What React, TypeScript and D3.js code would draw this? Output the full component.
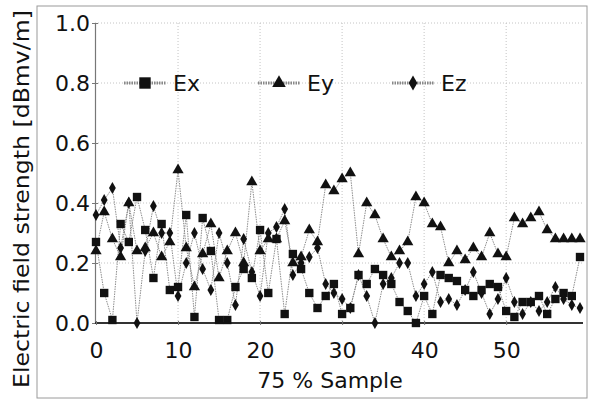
import React, { useEffect, useRef } from "react";
import * as d3 from "d3";

// sample index 0..59
const samples = d3.range(0, 60);

const ex = [
  0.27, 0.10, 0.01, 0.33, 0.27, 0.42, 0.31, 0.15, 0.33, 0.11,
  0.12, 0.36, 0.02, 0.35, 0.24, 0.01, 0.01, 0.12, 0.18, 0.15,
  0.31, 0.10, 0.28, 0.03, 0.23, 0.18, 0.10, 0.05, 0.09, 0.13,
  0.03, 0.05, 0.16, 0.13, 0.18, 0.16, 0.13, 0.07, 0.04, 0.00,
  0.09, 0.03, 0.16, 0.15, 0.14, 0.11, 0.09, 0.11, 0.13, 0.12,
  0.04, 0.02, 0.07, 0.07, 0.09, 0.03, 0.08, 0.10, 0.09, 0.22,
];

const ey = [
  0.24, 0.37, 0.28, 0.22, 0.40, 0.24, 0.25, 0.30, 0.22, 0.27,
  0.51, 0.25, 0.12, 0.23, 0.33, 0.15, 0.24, 0.30, 0.20, 0.47,
  0.24, 0.28, 0.28, 0.34, 0.20, 0.22, 0.31, 0.27, 0.46, 0.44,
  0.48, 0.50, 0.23, 0.40, 0.36, 0.28, 0.22, 0.24, 0.27, 0.42,
  0.40, 0.33, 0.32, 0.20, 0.24, 0.21, 0.25, 0.22, 0.30, 0.23,
  0.22, 0.35, 0.33, 0.35, 0.37, 0.31, 0.28, 0.28, 0.28, 0.28,
];

const ez = [
  0.36, 0.41, 0.45, 0.25, 0.40, 0.00, 0.24, 0.39, 0.30, 0.30,
  0.09, 0.20, 0.30, 0.18, 0.11, 0.30, 0.20, 0.06, 0.28, 0.17,
  0.09, 0.30, 0.32, 0.38, 0.16, 0.20, 0.22, 0.25, 0.13, 0.10,
  0.08, 0.05, 0.16, 0.09, 0.00, 0.13, 0.15, 0.20, 0.20, 0.09,
  0.13, 0.17, 0.07, 0.08, 0.06, 0.11, 0.17, 0.10, 0.03, 0.08,
  0.15, 0.07, 0.03, 0.07, 0.04, 0.07, 0.12, 0.08, 0.06, 0.05,
];

const seriesNames = ["Ex", "Ey", "Ez"];
const xTicks = [0, 10, 20, 30, 40, 50];
const yTicks = [0, 0.2, 0.4, 0.6, 0.8, 1.0];

const FONT = "'DejaVu Sans', 'Open Sans', sans-serif";

export default function App() {
  const ref = useRef<SVGSVGElement>(null);

  useEffect(() => {
    const svg = d3.select(ref.current);
    svg.selectAll("*").remove();

    const x = d3.scaleLinear().domain([0, 59]).range([96, 580]);
    const y = d3.scaleLinear().domain([0, 1]).range([323, 23]);

    // outer frame
    svg.append("rect")
      .attr("x", 37).attr("y", 6)
      .attr("width", 550).attr("height", 392)
      .attr("fill", "none")
      .attr("stroke", "#9a9a9a")
      .attr("stroke-width", 1);

    // grid
    const grid = svg.append("g");
    grid.selectAll("line.h")
      .data(yTicks.slice(1))
      .enter().append("line")
      .attr("x1", 95).attr("x2", 583)
      .attr("y1", (d) => y(d)).attr("y2", (d) => y(d))
      .attr("stroke", "#c4c4c4")
      .attr("stroke-dasharray", "1,2");
    grid.selectAll("line.v")
      .data(xTicks.slice(1))
      .enter().append("line")
      .attr("x1", (d) => x(d)).attr("x2", (d) => x(d))
      .attr("y1", y(1)).attr("y2", y(0))
      .attr("stroke", "#c4c4c4")
      .attr("stroke-dasharray", "1,2");

    // axes
    const yAxis = d3.axisLeft(y)
      .tickValues(yTicks)
      .tickFormat(d3.format(".1f"))
      .tickSizeInner(3)
      .tickSizeOuter(0)
      .tickPadding(2);
    const gy = svg.append("g").attr("transform", "translate(95,0)").call(yAxis);
    gy.select(".domain").attr("stroke", "#777").attr("stroke-width", 1.2);
    gy.selectAll(".tick line").attr("stroke", "#777").attr("x2", 3).attr("x1", -3);
    gy.selectAll(".tick text")
      .attr("font-family", FONT)
      .attr("font-size", 22)
      .attr("fill", "#111");

    const xAxis = d3.axisBottom(x)
      .tickValues(xTicks)
      .tickSizeInner(3)
      .tickSizeOuter(0)
      .tickPadding(16);
    const gx = svg.append("g").attr("transform", "translate(0,323)").call(xAxis);
    gx.select(".domain").attr("d", "M95,0H583").attr("stroke", "#333").attr("stroke-width", 2);
    gx.selectAll(".tick line").attr("stroke", "#777").attr("y1", -2).attr("y2", 2);
    gx.selectAll(".tick text")
      .attr("font-family", FONT)
      .attr("font-size", 22)
      .attr("fill", "#111");

    // axis titles
    svg.append("text")
      .attr("transform", "translate(29,199) rotate(-90)")
      .attr("text-anchor", "middle")
      .attr("font-family", FONT)
      .attr("font-size", 22)
      .attr("textLength", 378)
      .attr("lengthAdjust", "spacingAndGlyphs")
      .attr("fill", "#111")
      .text("Electric field strength [dBmv/m]");
    svg.append("text")
      .attr("x", 330).attr("y", 388)
      .attr("text-anchor", "middle")
      .attr("font-family", FONT)
      .attr("font-size", 22)
      .attr("fill", "#111")
      .text("75 % Sample");

    const data = [ex, ey, ez];
    const symbols = [d3.symbolSquare, d3.symbolTriangle, d3.symbolDiamond];
    const sizes = [70, 55, 40];

    const line = d3.line<number>()
      .x((d, i) => x(samples[i]))
      .y((d) => y(d));

    data.forEach(function (vals) {
      svg.append("path")
        .attr("d", line(vals))
        .attr("fill", "none")
        .attr("stroke", "#8c8c8c")
        .attr("stroke-width", 1)
        .attr("stroke-dasharray", "1.5,1");
    });
    data.forEach(function (vals, k) {
      svg.append("g").selectAll("path")
        .data(vals)
        .enter().append("path")
        .attr("transform", (d, i) => "translate(" + x(samples[i]) + "," + y(d) + ")")
        .attr("d", d3.symbol().type(symbols[k]).size(sizes[k]))
        .attr("fill", "#111");
    });

    // legend
    const legend = svg.append("g").attr("transform", "translate(145," + y(0.8) + ")");
    const items = legend.selectAll("g")
      .data(seriesNames)
      .enter().append("g")
      .attr("transform", (d, i) => "translate(" + i * 134 + ",0)");
    items.append("line")
      .attr("x1", -21).attr("x2", 21)
      .attr("stroke", "#888")
      .attr("stroke-width", 3)
      .attr("stroke-dasharray", "1.5,1");
    items.append("path")
      .attr("d", (d, i) => d3.symbol().type(symbols[i]).size([130, 80, 65][i])())
      .attr("fill", "#111");
    items.append("text")
      .attr("x", 28)
      .attr("dy", "0.35em")
      .attr("font-family", FONT)
      .attr("font-size", 22)
      .attr("fill", "#111")
      .text((d) => d);
  }, []);

  return (
    <svg
      ref={ref}
      width={590}
      height={401}
      style={{ position: "absolute", left: 0, top: 0, background: "#fff" }}
    />
  );
}
